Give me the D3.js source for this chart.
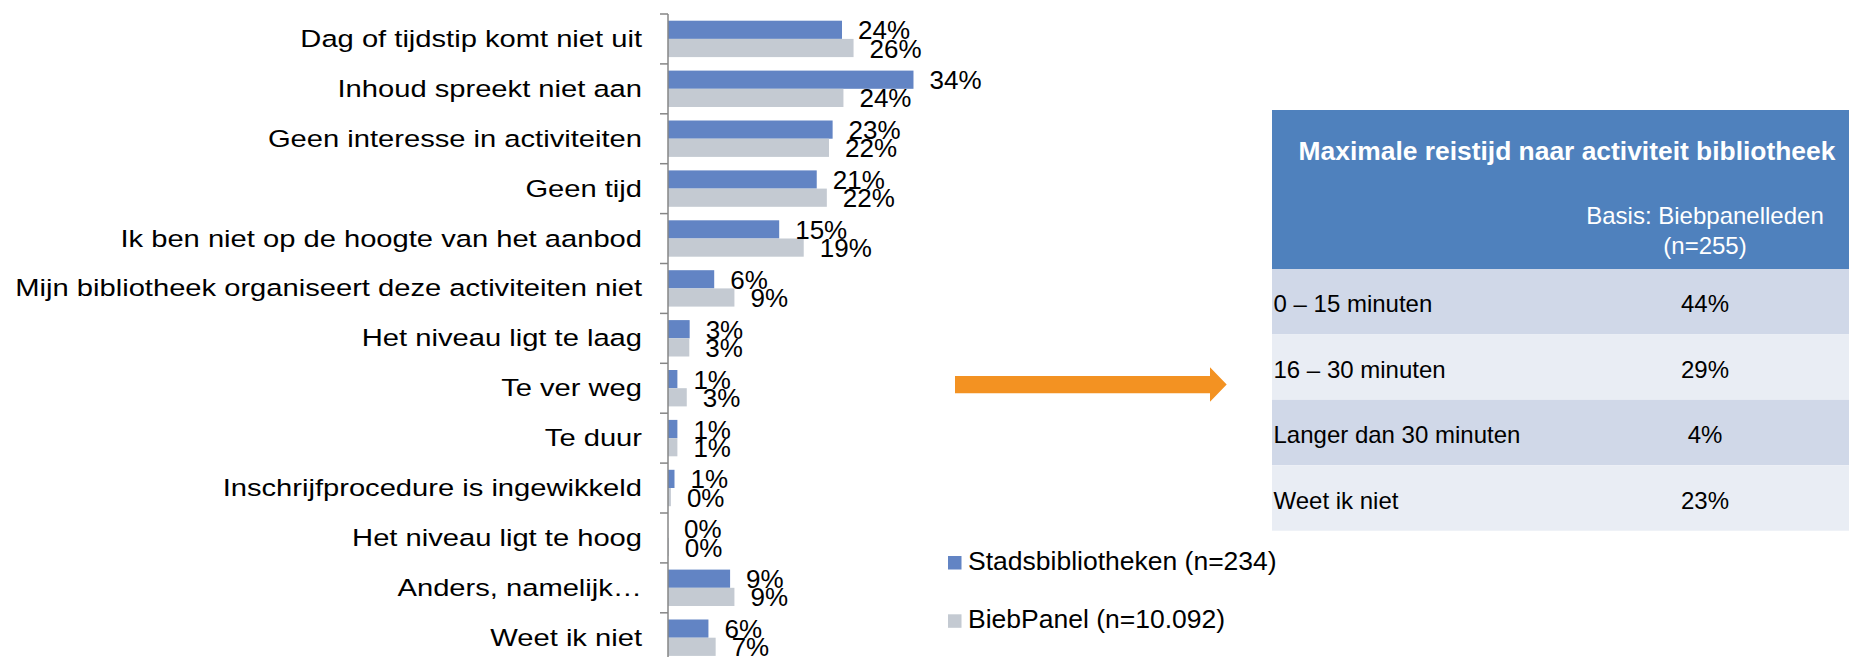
<!DOCTYPE html>
<html>
<head>
<meta charset="utf-8">
<script src="https://cdn.jsdelivr.net/npm/d3@7"></script>
<style>
body { margin:0; background:#FFF; }
text { font-family:"Liberation Sans", Arial, sans-serif; }
</style>
</head>
<body>
<div id="chart"></div>
<script>
var categories = [
	"Dag of tijdstip komt niet uit",
	"Inhoud spreekt niet aan",
	"Geen interesse in activiteiten",
	"Geen tijd",
	"Ik ben niet op de hoogte van het aanbod",
	"Mijn bibliotheek organiseert deze activiteiten niet",
	"Het niveau ligt te laag",
	"Te ver weg",
	"Te duur",
	"Inschrijfprocedure is ingewikkeld",
	"Het niveau ligt te hoog",
	"Anders, namelijk\u2026",
	"Weet ik niet"
];
var stads = [24.1, 34.0, 22.8, 20.6, 15.4, 6.4, 3.0, 1.3, 1.3, 0.9, 0.0, 8.6, 5.6];
var bieb  = [25.7, 24.3, 22.3, 22.0, 18.8, 9.2, 2.95, 2.6, 1.3, 0.4, 0.1, 9.2, 6.6];
var seriesNames = ["Stadsbibliotheken (n=234)", "BiebPanel (n=10.092)"];

var tableTitle = "Maximale reistijd naar activiteit bibliotheek";
var tableBasis = ["Basis: Biebpanelleden", "(n=255)"];
var tableLabels = ["0 \u2013 15 minuten", "16 \u2013 30 minuten", "Langer dan 30 minuten", "Weet ik niet"];
var tableValues = ["44%", "29%", "4%", "23%"];

var width = 1849, height = 657;
var colors = ["#6284C4", "#C4CAD2"];
var axisX = 668;

var svg = d3.select("#chart").append("svg")
	.attr("width", width)
	.attr("height", height);

svg.append("rect")
	.attr("width", width)
	.attr("height", height)
	.style("fill", "#FFF");

var yScale = d3.scaleBand()
	.domain(categories)
	.range([14, 14 + 13 * 49.9]);

var ySub = d3.scaleBand()
	.domain([0, 1])
	.range([6.7, 43.1]);

var xScale = d3.scaleLinear()
	.domain([0, 100])
	.range([axisX, axisX + 722]);

var fmt = function(v) { return d3.format(".0f")(v) + "%"; };

var rows = categories.map(function(c, i) {
	return {cat: c, vals: [stads[i], bieb[i]]};
});

var groups = svg.append("g")
	.attr("id", "bars")
	.selectAll("g")
	.data(rows)
	.enter()
	.append("g")
	.attr("transform", function(d) { return "translate(0," + yScale(d.cat) + ")"; });

groups.selectAll("rect")
	.data(function(d) { return d.vals; })
	.enter()
	.append("rect")
	.attr("x", xScale(0))
	.attr("y", function(d, i) { return ySub(i); })
	.attr("width", function(d) { return xScale(d) - xScale(0); })
	.attr("height", ySub.bandwidth())
	.attr("fill", function(d, i) { return colors[i]; });

groups.selectAll("text")
	.data(function(d) { return d.vals; })
	.enter()
	.append("text")
	.attr("x", function(d) { return xScale(d) + 16; })
	.attr("y", function(d, i) { return ySub(i) + ySub.bandwidth() + 0.5; })
	.style("font-size", "26px")
	.style("fill", "#000")
	.text(fmt);

// axis line and boundary ticks
var axis = svg.append("g").attr("id", "axis");
axis.append("line")
	.attr("x1", axisX).attr("x2", axisX)
	.attr("y1", yScale.range()[0]).attr("y2", yScale.range()[1])
	.style("stroke", "#868686")
	.style("stroke-width", 1.5);

axis.selectAll("line.tick")
	.data(categories.concat([null]))
	.enter()
	.append("line")
	.attr("class", "tick")
	.attr("x1", axisX - 8).attr("x2", axisX)
	.attr("y1", function(d) { return d === null ? yScale.range()[1] : yScale(d); })
	.attr("y2", function(d) { return d === null ? yScale.range()[1] : yScale(d); })
	.style("stroke", "#868686")
	.style("stroke-width", 1.5);

axis.selectAll("text")
	.data(categories)
	.enter()
	.append("text")
	.attr("text-anchor", "end")
	.attr("transform", function(d) {
		return "translate(642," + (yScale(d) + yScale.bandwidth() / 2 + 8) + ") scale(1.19,1)";
	})
	.style("font-size", "24.5px")
	.style("fill", "#000")
	.text(function(d) { return d; });

// legend
var legend = svg.append("g")
	.attr("id", "legend")
	.selectAll("g")
	.data(seriesNames)
	.enter()
	.append("g")
	.attr("transform", function(d, i) { return "translate(948," + (556 + i * 58.3) + ")"; });

legend.append("rect")
	.attr("width", 13.5)
	.attr("height", 13.5)
	.attr("fill", function(d, i) { return colors[i]; });

legend.append("text")
	.attr("x", 20)
	.attr("y", 14)
	.style("font-size", "26.5px")
	.style("fill", "#000")
	.text(function(d) { return d; });

// orange arrow
svg.append("path")
	.attr("d", "M955,376 L1210,376 L1210,367.3 L1226.7,384.6 L1210,401.7 L1210,393.3 L955,393.3 Z")
	.style("fill", "#F39222");

// table
var tLeft = 1272, tRight = 1849;
var tab = svg.append("g").attr("id", "table");

tab.append("rect")
	.attr("x", tLeft)
	.attr("y", 110)
	.attr("width", tRight - tLeft)
	.attr("height", 159)
	.style("fill", "#4F81BD");

tab.append("text")
	.attr("x", 1567)
	.attr("y", 160)
	.attr("text-anchor", "middle")
	.style("font-size", "26.4px")
	.style("font-weight", "bold")
	.style("fill", "#FFF")
	.text(tableTitle);

tab.selectAll("text.basis")
	.data(tableBasis)
	.enter()
	.append("text")
	.attr("class", "basis")
	.attr("x", 1705)
	.attr("y", function(d, i) { return 224.3 + i * 30; })
	.attr("text-anchor", "middle")
	.style("font-size", "24px")
	.style("fill", "#FFF")
	.text(function(d) { return d; });

var rowScale = d3.scaleBand()
	.domain(tableLabels)
	.range([269, 530.7]);

var trows = tab.selectAll("g.row")
	.data(tableLabels)
	.enter()
	.append("g")
	.attr("class", "row")
	.attr("transform", function(d) { return "translate(0," + rowScale(d) + ")"; });

trows.append("rect")
	.attr("x", tLeft)
	.attr("width", tRight - tLeft)
	.attr("height", rowScale.bandwidth())
	.style("fill", function(d, i) { return i % 2 === 0 ? "#D0D8E8" : "#E9EDF4"; });

trows.append("text")
	.attr("x", tLeft + 1.5)
	.attr("y", rowScale.bandwidth() / 2 + 10.7)
	.style("font-size", "24px")
	.style("fill", "#000")
	.text(function(d) { return d; });

trows.append("text")
	.attr("x", 1705)
	.attr("y", rowScale.bandwidth() / 2 + 10.7)
	.attr("text-anchor", "middle")
	.style("font-size", "24px")
	.style("fill", "#000")
	.text(function(d, i) { return tableValues[i]; });
</script>
</body>
</html>
